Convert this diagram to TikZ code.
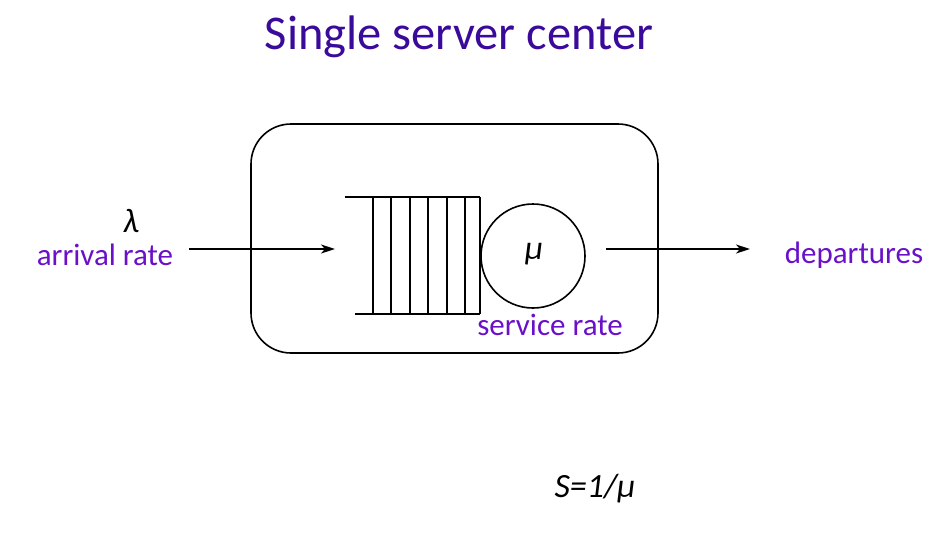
\documentclass[tikz,border=0pt]{standalone}
\usepackage{fontspec}
\setmainfont{Carlito}
\usetikzlibrary{arrows.meta}
\definecolor{titlecol}{HTML}{3A0A9A}
\definecolor{labcol}{HTML}{6A10C8}
\begin{document}
\begin{tikzpicture}[x=1pt,y=-1pt,
  lab/.style={text=labcol,font=\fontsize{31}{36}\selectfont,inner sep=0pt},
  greek/.style={font=\fontsize{34}{38}\selectfont\itshape,inner sep=0pt},
  flow/.style={-{Stealth[length=14pt,width=9pt,inset=4pt]},line width=1.6pt},
  ln/.style={line width=1.6pt}]
\useasboundingbox (0,0) rectangle (942,555);
\node[text=titlecol,font=\fontsize{48.5}{54}\selectfont,inner sep=0pt] (title) at (459,37) {Single server center};
\node[draw,ln,rounded corners=40pt,minimum width=407pt,minimum height=229pt,inner sep=0pt] (box) at (454.5,238.5) {};
% queue
\coordinate (qtl) at (345,197);
\coordinate (qtr) at (480,197);
\coordinate (qbl) at (355,314);
\coordinate (qbr) at (480,314);
\draw[ln] (qtl) -- (qtr);
\draw[ln] (qbl) -- (qbr);
\foreach \x in {373,391,410,428,447,465,480}{
  \draw[ln] (\x,197) -- (\x,314);
}
\node[draw,ln,circle,minimum size=104pt,inner sep=0pt] (srv) at (533,256) {};
\node[greek] (mu) at (534,254) {μ};
% arrows
\coordinate (ain) at (189,249);
\coordinate (aqueue) at (335,249);
\coordinate (aout) at (606,249);
\coordinate (adep) at (750,249);
\draw[flow] (ain) -- (aqueue);
\draw[flow] (aout) -- (adep);
\node[greek] (lam) at (131,221) {λ};
\node[lab] (arr) at (105,255) {arrival rate};
\node[lab] (dep) at (854,255) {departures};
\node[lab] (srate) at (550,325) {service rate};
\node[font=\fontsize{34}{38}\selectfont\itshape,inner sep=0pt] (s) at (595,489) {S=1/μ};
\end{tikzpicture}
\end{document}
